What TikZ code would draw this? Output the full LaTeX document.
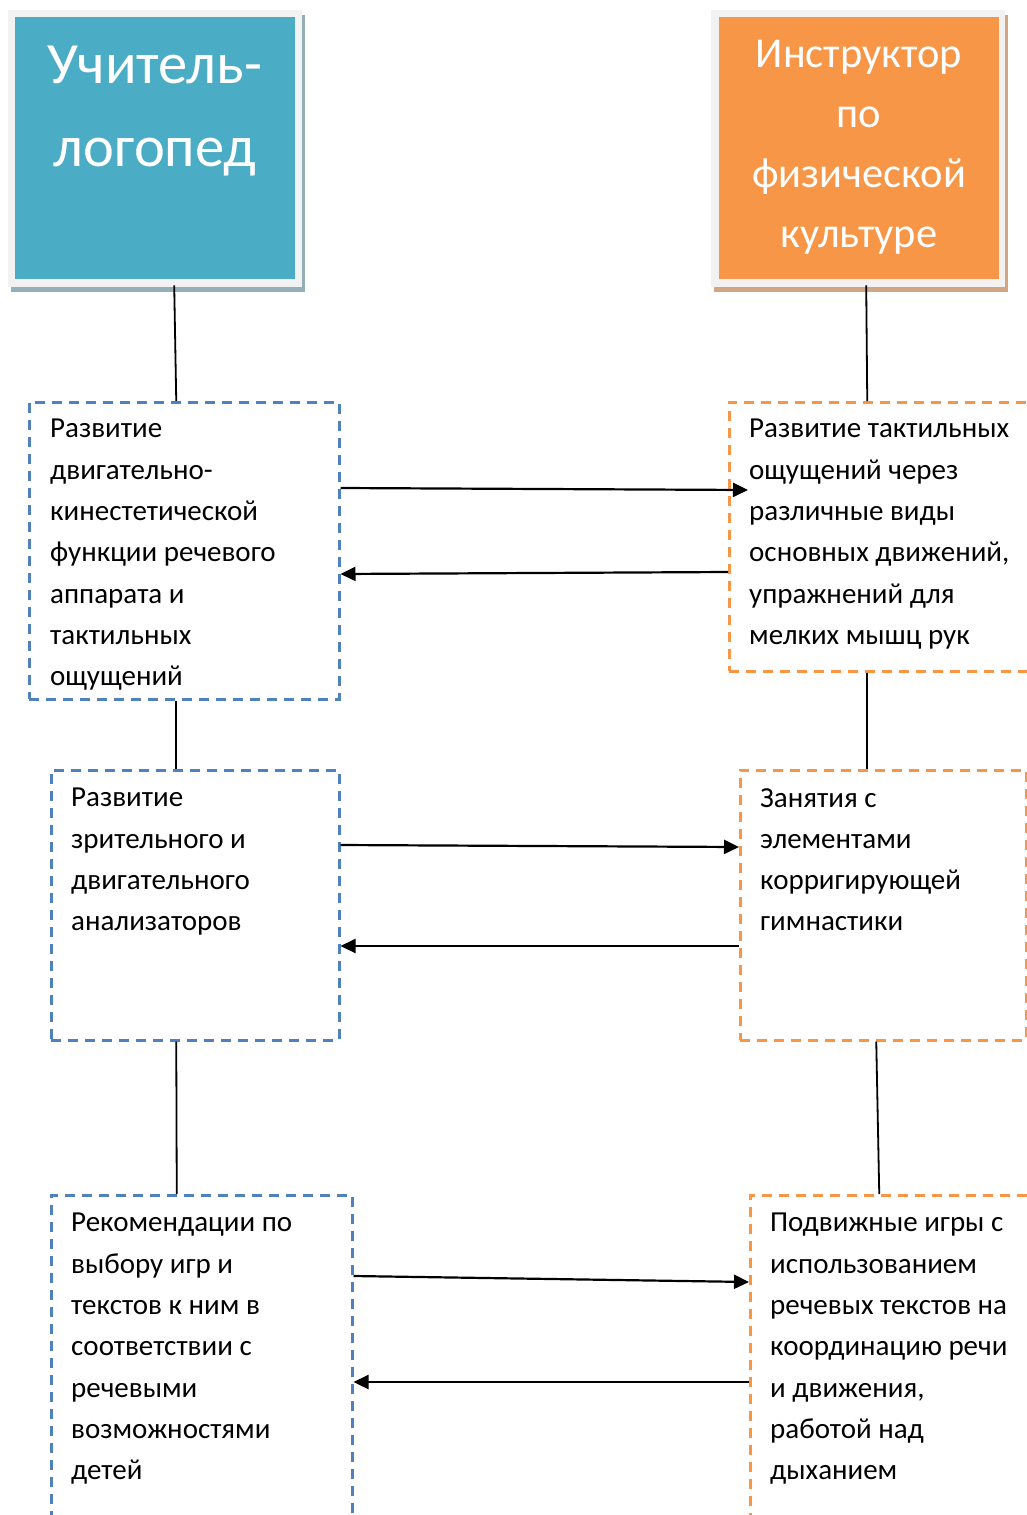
\documentclass[tikz,border=0pt]{standalone}
\usepackage{fontspec}
\setmainfont{Carlito}
\usetikzlibrary{arrows.meta}
\definecolor{bluefill}{HTML}{4BACC6}
\definecolor{orangefill}{HTML}{F79646}
\definecolor{framegray}{HTML}{F2F2F2}
\definecolor{blueshadow}{HTML}{93AFB8}
\definecolor{orangeshadow}{HTML}{D2A584}
\definecolor{bluedash}{HTML}{4F81BD}
\definecolor{orangedash}{HTML}{F79646}
\tikzset{
  shadowbox/.style={anchor=north west, inner sep=0, minimum width=294pt, minimum height=277pt},
  bluedbox/.style={draw=bluedash, line width=2.5pt, dash pattern=on 10pt off 7pt, anchor=north west, inner sep=0},
  orangedbox/.style={draw=orangedash, line width=2.5pt, dash pattern=on 10pt off 7pt, anchor=north west, inner sep=0},
  bodytext/.style={anchor=north west, inner sep=0, align=left, font=\fontsize{29}{41.3}\selectfont},
  link/.style={line width=1.8pt},
  arr/.style={line width=2.2pt, -{Triangle[length=15pt,width=14pt]}}
}
\begin{document}
\begin{tikzpicture}[x=1pt,y=-1pt]
\useasboundingbox (0,0) rectangle (1027,1515);
\clip (0,0) rectangle (1027,1515);
% title boxes
\node[shadowbox, fill=blueshadow] (tbs) at (11,15) {};
\node[shadowbox, fill=framegray] (tbf) at (8,10) {};
\node[anchor=north west, inner sep=0, fill=bluefill, minimum width=280pt, minimum height=262pt] (tb) at (15,17) {};
\node[anchor=north, inner sep=0, align=center, text=white, font=\fontsize{58.5}{83}\selectfont] (tbt) at (155,46) {Учитель-\\логопед};
\node[shadowbox, fill=orangeshadow] (tos) at (714,15) {};
\node[shadowbox, fill=framegray] (tof) at (711,10) {};
\node[anchor=north west, inner sep=0, fill=orangefill, minimum width=280pt, minimum height=262pt] (to) at (719,17) {};
\node[anchor=north, inner sep=0, align=center, text=white, font=\fontsize{42.5}{60}\selectfont] (tot) at (859,40) {Инструктор\\по\\физической\\культуре};
% dashed boxes
\node[bluedbox, minimum width=310pt, minimum height=297pt] (l1) at (28,401) {};
\node[orangedbox, minimum width=320pt, minimum height=269pt] (r1) at (728,401) {};
\node[bluedbox, minimum width=288pt, minimum height=270pt] (l2) at (50,769) {};
\node[orangedbox, minimum width=286pt, minimum height=270pt] (r2) at (739,769) {};
\node[bluedbox, minimum width=301pt, minimum height=340pt] (l3) at (50,1194) {};
\node[orangedbox, minimum width=300pt, minimum height=340pt] (r3) at (749,1194) {};
% texts
\node[bodytext] (l1t) at (50,419) {Развитие\\двигательно-\\кинестетической\\функции речевого\\аппарата и\\тактильных\\ощущений};
\node[bodytext] (r1t) at (749,419) {Развитие тактильных\\ощущений через\\различные виды\\основных движений,\\упражнений для\\мелких мышц рук};
\node[bodytext] (l2t) at (71,788) {Развитие\\зрительного и\\двигательного\\анализаторов};
\node[bodytext] (r2t) at (760,788) {Занятия с\\элементами\\корригирующей\\гимнастики};
\node[bodytext] (l3t) at (71,1213) {Рекомендации по\\выбору игр и\\текстов к ним в\\соответствии с\\речевыми\\возможностями\\детей};
\node[bodytext] (r3t) at (770,1213) {Подвижные игры с\\использованием\\речевых текстов на\\координацию речи\\и движения,\\работой над\\дыханием};
% vertical links
\draw[link] ([xshift=19pt,yshift=2pt]tbf.south) -- ([xshift=-8pt]l1.north);
\draw[link] ([xshift=8pt,yshift=2pt]tof.south) -- ([xshift=-22pt]r1.north);
\draw[link] ([xshift=-8pt]l1.south) -- ([xshift=-19pt]l2.north);
\draw[link] ([xshift=-22pt]r1.south) -- ([xshift=-16pt]r2.north);
\draw[link] ([xshift=-19pt]l2.south) -- ([xshift=-25pt]l3.north);
\draw[link] ([xshift=-7pt]r2.south) -- ([xshift=-21pt]r3.north);
% horizontal arrows
\draw[arr] ([yshift=-87pt]l1.north east) -- ([xshift=20pt,yshift=-89pt]r1.north west);
\draw[arr] ([yshift=-171pt]r1.north west) -- ([yshift=-173pt]l1.north east);
\draw[arr] ([yshift=-76pt]l2.north east) -- ([yshift=-78pt]r2.north west);
\draw[arr] ([yshift=-177pt]r2.north west) -- ([yshift=-177pt]l2.north east);
\draw[arr] ([yshift=-82pt]l3.north east) -- ([yshift=-88pt]r3.north west);
\draw[arr] ([yshift=-188pt]r3.north west) -- ([yshift=-188pt]l3.north east);
\end{tikzpicture}
\end{document}
